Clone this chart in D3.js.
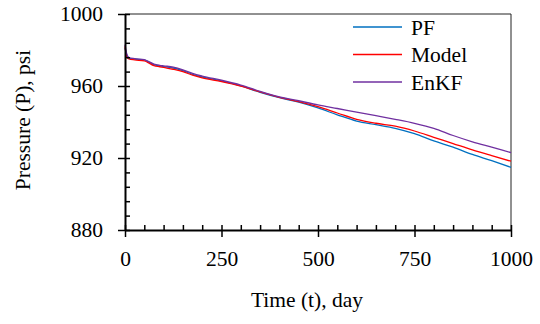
<!DOCTYPE html>
<html lang="en">
<head>
<meta charset="UTF-8">
<title>Pressure vs time</title>
<script src="https://d3js.org/d3.v7.min.js"></script>
<style>
  body { margin: 0; background: #fff; }
  svg text { font-family: "Liberation Serif", "Times New Roman", serif; fill: #000; }
</style>
</head>
<body>
<svg id="chart" width="540" height="324"></svg>
<script>
// time in days
const days = [0, 5, 10, 25, 50, 60, 75, 90, 100, 125, 150, 175, 200, 250, 300, 350, 400,
              450, 500, 550, 600, 650, 700, 750, 800, 850, 900, 950, 1000];
// pressure values (psi)
const pf    = [981, 977, 975.5, 975, 974.5, 973.5, 971.8, 971.2, 970.8, 970, 968.5, 966.5, 965, 962.8, 960, 956.5, 953.5,
               951, 947.8, 944, 940.5, 938.5, 936.5, 933.5, 929.5, 926, 922, 918.5, 914.8];
const model = [982, 976, 975, 974.5, 974, 973, 971.3, 970.7, 970.3, 969.3, 968, 966, 964.5, 962.5, 960, 956.7, 953.7,
               951.3, 948.5, 945, 941.5, 939.3, 937.7, 935, 931.5, 928, 924.5, 921.3, 918.2];
const enkf  = [983, 977.5, 975.8, 975.2, 974.6, 973.7, 972.2, 971.5, 971.2, 970.5, 969, 967, 965.5, 963.2, 960.5, 957, 954,
               951.8, 949.5, 947.5, 945.5, 943.5, 941.5, 939.3, 936.5, 932.5, 929, 926, 923];
const seriesNames = ["PF", "Model", "EnKF"];
const xTicks = [0, 250, 500, 750, 1000];
const yTicks = [880, 920, 960, 1000];

const colors = { PF: "#0070C0", Model: "#FF0000", EnKF: "#7030A0" };
const series = [
  { name: "PF", values: pf },
  { name: "Model", values: model },
  { name: "EnKF", values: enkf }
];

const margin = { left: 125, top: 14 };
const width = 386, height = 216;
const fontSize = 21.5;

const svg = d3.select("#chart");
const g = svg.append("g").attr("transform", `translate(${margin.left},${margin.top})`);

const x = d3.scaleLinear().domain([0, 1000]).range([0, width]);
const y = d3.scaleLinear().domain([880, 1000]).range([height, 0]);

// frame on top and right
g.append("path")
  .attr("d", `M0,0H${width}V${height}`)
  .attr("fill", "none").attr("stroke", "#222").attr("stroke-width", 1);

// lines
const line = d3.line()
  .x((d, i) => x(days[i]))
  .y(d => y(d))
  .curve(d3.curveMonotoneX);

g.selectAll(".series")
  .data(series)
  .enter()
  .append("path")
  .attr("class", "series")
  .attr("fill", "none")
  .attr("stroke", d => colors[d.name])
  .attr("stroke-width", 1.3)
  .attr("d", d => line(d.values));

// minor/inner ticks
g.append("g")
  .attr("transform", `translate(0,${height})`)
  .call(d3.axisTop(x).tickValues(d3.range(0, 1001, 50)).tickSize(5).tickFormat(""))
  .call(a => a.select(".domain").remove());
g.append("g")
  .call(d3.axisRight(y).tickValues(d3.range(880, 1001, 8)).tickSize(5).tickFormat(""))
  .call(a => a.select(".domain").remove());

// main axes
const xAxis = g.append("g")
  .attr("transform", `translate(0,${height})`)
  .call(d3.axisBottom(x).tickValues(xTicks).tickFormat(d3.format("d"))
    .tickSize(7).tickPadding(14).tickSizeOuter(0));
const yAxis = g.append("g")
  .call(d3.axisLeft(y).tickValues(yTicks).tickFormat(d3.format("d"))
    .tickSize(7).tickPadding(15).tickSizeOuter(0));

[xAxis, yAxis].forEach(a => {
  a.selectAll("text").style("font-size", fontSize + "px");
  a.select(".domain").attr("stroke", "#000").attr("stroke-width", 2);
  a.attr("font-family", null);
});
g.selectAll(".tick line").attr("stroke", "#000").attr("stroke-width", 1.5);

// axis titles
svg.append("text")
  .attr("x", 307).attr("y", 307)
  .attr("text-anchor", "middle")
  .style("font-size", fontSize + "px")
  .text("Time (t), day");
svg.append("text")
  .attr("transform", "translate(30,120) rotate(-90)")
  .attr("text-anchor", "middle")
  .style("font-size", fontSize + "px")
  .text("Pressure (P), psi");

// legend
const legend = svg.append("g");
seriesNames.forEach((name, i) => {
  const ly = 27 + i * 27.5;
  legend.append("line")
    .attr("x1", 353).attr("x2", 402)
    .attr("y1", ly).attr("y2", ly)
    .attr("stroke", colors[name]).attr("stroke-width", 1.3);
  legend.append("text")
    .attr("x", 411).attr("y", ly)
    .attr("dy", "0.35em")
    .style("font-size", fontSize + "px")
    .text(name);
});
</script>
</body>
</html>
